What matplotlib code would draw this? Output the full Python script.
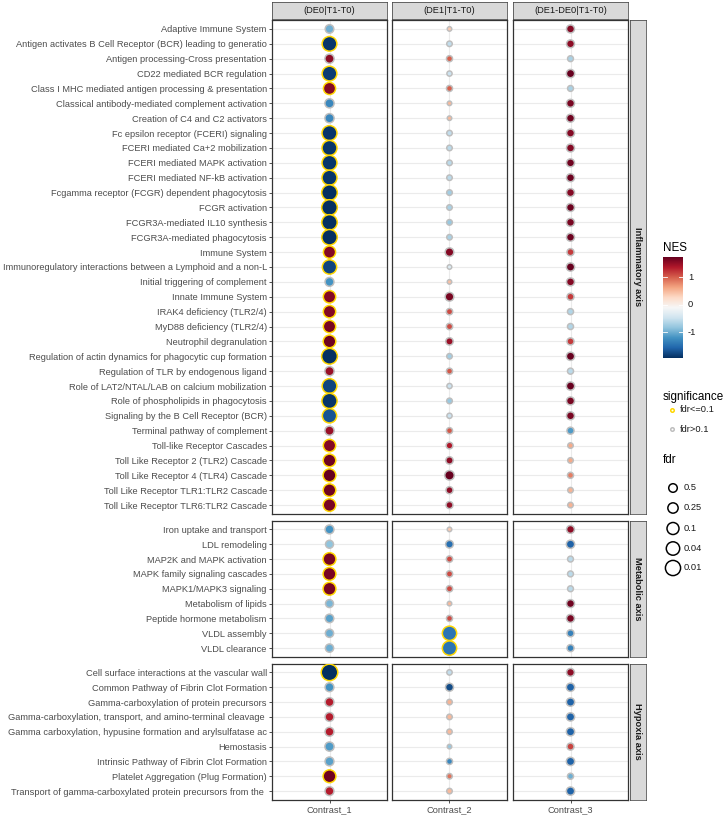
import matplotlib
matplotlib.use("Agg")
import matplotlib.pyplot as plt
import numpy as np
from matplotlib.colors import Normalize

plt.rcParams['font.family'] = ['Liberation Sans', 'DejaVu Sans']

W, H = 725, 816

contrasts = ["Contrast_1", "Contrast_2", "Contrast_3"]
contrast_titles = ["(DE0|T1-T0)", "(DE1|T1-T0)", "(DE1-DE0|T1-T0)"]
group_names = ["Inflammatory axis", "Metabolic axis", "Hypoxia axis"]

inflammatory_paths = [
    "Adaptive Immune System",
    "Antigen activates B Cell Receptor (BCR) leading to generatio",
    "Antigen processing-Cross presentation",
    "CD22 mediated BCR regulation",
    "Class I MHC mediated antigen processing & presentation",
    "Classical antibody-mediated complement activation",
    "Creation of C4 and C2 activators",
    "Fc epsilon receptor (FCERI) signaling",
    "FCERI mediated Ca+2 mobilization",
    "FCERI mediated MAPK activation",
    "FCERI mediated NF-kB activation",
    "Fcgamma receptor (FCGR) dependent phagocytosis",
    "FCGR activation",
    "FCGR3A-mediated IL10 synthesis",
    "FCGR3A-mediated phagocytosis",
    "Immune System",
    "Immunoregulatory interactions between a Lymphoid and a non-L",
    "Initial triggering of complement",
    "Innate Immune System",
    "IRAK4 deficiency (TLR2/4)",
    "MyD88 deficiency (TLR2/4)",
    "Neutrophil degranulation",
    "Regulation of actin dynamics for phagocytic cup formation",
    "Regulation of TLR by endogenous ligand",
    "Role of LAT2/NTAL/LAB on calcium mobilization",
    "Role of phospholipids in phagocytosis",
    "Signaling by the B Cell Receptor (BCR)",
    "Terminal pathway of complement",
    "Toll-like Receptor Cascades",
    "Toll Like Receptor 2 (TLR2) Cascade",
    "Toll Like Receptor 4 (TLR4) Cascade",
    "Toll Like Receptor TLR1:TLR2 Cascade",
    "Toll Like Receptor TLR6:TLR2 Cascade",
]
metabolic_paths = [
    "Iron uptake and transport",
    "LDL remodeling",
    "MAP2K and MAPK activation",
    "MAPK family signaling cascades",
    "MAPK1/MAPK3 signaling",
    "Metabolism of lipids",
    "Peptide hormone metabolism",
    "VLDL assembly",
    "VLDL clearance",
]
hypoxia_paths = [
    "Cell surface interactions at the vascular wall",
    "Common Pathway of Fibrin Clot Formation",
    "Gamma-carboxylation of protein precursors",
    "Gamma-carboxylation, transport, and amino-terminal cleavage ",
    "Gamma carboxylation, hypusine formation and arylsulfatase ac",
    "Hemostasis",
    "Intrinsic Pathway of Fibrin Clot Formation",
    "Platelet Aggregation (Plug Formation)",
    "Transport of gamma-carboxylated protein precursors from the ",
]

# NES, order: inflammatory (33), metabolic (9), hypoxia (9)
nes_c1 = [-1.0, -1.9, 1.55, -1.85, 1.6, -1.3, -1.3, -1.9, -1.9, -1.9, -1.9,
          -1.95, -1.95, -1.95, -1.95, 1.6, -1.8, -1.2, 1.6, 1.6, 1.65, 1.7,
          -1.95, 1.5, -1.8, -1.9, -1.7, 1.5, 1.6, 1.7, 1.75, 1.7, 1.65,
          -1.2, -0.85, 1.65, 1.65, 1.65, -0.95, -1.1, -1.0, -1.0,
          -1.95, -1.2, 1.35, 1.35, 1.35, -1.15, -1.1, 1.7, 1.35]
nes_c2 = [0.4, -0.55, 1.0, -0.5, 1.0, 0.5, 0.5, -0.55, -0.6, -0.6, -0.6,
          -0.75, -0.7, -0.8, -0.7, 1.6, -0.35, 0.45, 1.65, 1.1, 1.1, 1.5,
          -0.75, 1.05, -0.5, -0.8, -0.5, 1.05, 1.4, 1.55, 1.75, 1.55, 1.55,
          0.4, -1.5, 1.1, 1.1, 1.1, 0.5, 1.1, -1.45, -1.45,
          -0.55, -1.75, 0.55, 0.5, 0.5, -0.8, -1.3, 0.9, 0.5]
nes_c3 = [1.6, 1.55, -0.7, 1.75, -0.7, 1.65, 1.7, 1.6, 1.6, 1.7, 1.72,
          1.6, 1.72, 1.65, 1.72, 1.2, 1.75, 1.6, 1.2, -0.65, -0.65, 1.2,
          1.75, -0.6, 1.75, 1.65, 1.65, -1.15, 0.6, 0.6, 0.85, 0.55, 0.55,
          1.55, -1.6, -0.6, -0.6, -0.6, 1.7, 1.65, -1.35, -1.35,
          1.55, -1.6, -1.6, -1.6, -1.6, 1.15, -1.6, -1.0, -1.6]

fdr_c1 = [0.5, 0.015, 0.4, 0.015, 0.09, 0.4, 0.4, 0.012, 0.012, 0.012, 0.012,
          0.007, 0.007, 0.008, 0.008, 0.09, 0.02, 0.45, 0.08, 0.08, 0.08, 0.07,
          0.006, 0.4, 0.015, 0.01, 0.02, 0.4, 0.08, 0.07, 0.06, 0.07, 0.07,
          0.45, 0.6, 0.06, 0.06, 0.06, 0.6, 0.5, 0.55, 0.55,
          0.003, 0.45, 0.45, 0.45, 0.45, 0.4, 0.45, 0.06, 0.45]
fdr_c2 = [0.97, 0.93, 0.88, 0.95, 0.88, 0.97, 0.97, 0.93, 0.93, 0.93, 0.93,
          0.92, 0.93, 0.92, 0.93, 0.5, 0.97, 0.97, 0.48, 0.85, 0.85, 0.7,
          0.93, 0.88, 0.95, 0.92, 0.95, 0.88, 0.8, 0.7, 0.35, 0.75, 0.75,
          0.97, 0.65, 0.85, 0.85, 0.85, 0.97, 0.88, 0.02, 0.02,
          0.94, 0.6, 0.93, 0.93, 0.94, 0.97, 0.88, 0.93, 0.93]
fdr_c3 = [0.6, 0.62, 0.9, 0.55, 0.9, 0.6, 0.6, 0.6, 0.6, 0.6, 0.6,
          0.6, 0.6, 0.6, 0.6, 0.75, 0.55, 0.6, 0.75, 0.88, 0.88, 0.75,
          0.55, 0.88, 0.55, 0.6, 0.6, 0.75, 0.93, 0.93, 0.88, 0.93, 0.93,
          0.62, 0.55, 0.9, 0.9, 0.9, 0.6, 0.6, 0.75, 0.75,
          0.62, 0.55, 0.55, 0.55, 0.55, 0.75, 0.55, 0.88, 0.55]

fdr_breaks = [0.5, 0.25, 0.1, 0.04, 0.01]
nes_breaks = [-1, 0, 1]

groups = [inflammatory_paths, metabolic_paths, hypoxia_paths]
nes_all = [np.array(nes_c1), np.array(nes_c2), np.array(nes_c3)]
fdr_all = [np.array(fdr_c1), np.array(fdr_c2), np.array(fdr_c3)]

# colour scale
vmin = min(a.min() for a in nes_all)
vmax = max(a.max() for a in nes_all)
norm = Normalize(vmin, vmax)
cmap = plt.get_cmap('RdBu_r')

# size scale (area scale on -log10 fdr)
lv_all = np.concatenate([-np.log10(a) for a in fdr_all])
lv_lo, lv_hi = lv_all.min(), lv_all.max()
STROKE_PX = 1.5


def size_of(fdr):
    v = -np.log10(np.asarray(fdr, dtype=float))
    r = np.clip((v - lv_lo) / (lv_hi - lv_lo), 0, 1)
    outer = 6 + 12 * np.sqrt(r)
    return ((outer - STROKE_PX) * 0.72) ** 2


def box(x0, y0, x1, y1):
    return [x0 / W, 1 - y1 / H, (x1 - x0) / W, (y1 - y0) / H]


fig = plt.figure(figsize=(W / 100, H / 100), dpi=100)

col_x = [(272, 387), (392, 507), (513, 628)]
row_y = [(20, 514), (520.5, 657), (663.5, 800)]
text_col = '#4D4D4D'
fs = 6.7
title_fs = 8.4

start = 0
for g, paths in enumerate(groups):
    n = len(paths)
    ypos = np.arange(n)
    for c in range(3):
        x0, x1 = col_x[c]
        y0, y1 = row_y[g]
        ax = fig.add_axes(box(x0, y0, x1, y1))
        ax.set_xlim(-0.6, 0.6)
        ax.set_ylim(n - 1 + 0.6, -0.6)
        ax.set_yticks(ypos)
        ax.set_xticks([0])
        ax.grid(True, color='#EBEBEB', lw=0.8)
        ax.set_axisbelow(True)
        for sp in ax.spines.values():
            sp.set_color('#333333')
            sp.set_linewidth(0.9)
        nes = nes_all[c][start:start + n]
        fdr = fdr_all[c][start:start + n]
        edges = ['#FFD700' if f <= 0.1 else '#BEBEBE' for f in fdr]
        ax.scatter(np.zeros(n), ypos, s=size_of(fdr), c=cmap(norm(nes)),
                   edgecolors=edges, linewidths=STROKE_PX * 0.72, zorder=3)
        ax.tick_params(length=2.2, width=0.6, color='#333333',
                       labelsize=fs, labelcolor=text_col, pad=1.5)
        if c == 0:
            ax.set_yticklabels(paths)
        else:
            ax.tick_params(left=False, labelleft=False)
        if g == 2:
            ax.set_xticklabels([contrasts[c]])
        else:
            ax.tick_params(bottom=False, labelbottom=False)

        if g == 0:
            sax = fig.add_axes(box(x0, 2, x1, 18.5))
            sax.set_facecolor('#D9D9D9')
            sax.set_xticks([])
            sax.set_yticks([])
            for sp in sax.spines.values():
                sp.set_color('#333333')
                sp.set_linewidth(0.5)
            sax.text(0.5, 0.5, contrast_titles[c], ha='center', va='center',
                     fontsize=fs, color='#1A1A1A', transform=sax.transAxes)
    rax = fig.add_axes(box(629.5, row_y[g][0], 646, row_y[g][1]))
    rax.set_facecolor('#D9D9D9')
    rax.set_xticks([])
    rax.set_yticks([])
    for sp in rax.spines.values():
        sp.set_color('#333333')
        sp.set_linewidth(0.5)
    rax.text(0.5, 0.5, group_names[g], ha='center', va='center', rotation=-90,
             fontsize=fs, fontweight='bold', color='#1A1A1A', transform=rax.transAxes)
    start += n

# colour bar legend
cax = fig.add_axes(box(663, 257, 683, 358))
grad = np.linspace(vmin, vmax, 256).reshape(-1, 1)
cax.imshow(grad, extent=[0, 1, vmin, vmax], origin='lower', aspect='auto',
           cmap=cmap, norm=norm)
cax.set_xlim(0, 1)
cax.set_ylim(vmin, vmax)
cax.axis('off')
for b in nes_breaks:
    cax.plot([0, 0.2], [b, b], color='white', lw=0.6)
    cax.plot([0.8, 1], [b, b], color='white', lw=0.6)
    fig.text(688 / W, 1 - (257 + (vmax - b) / (vmax - vmin) * 101) / H,
             str(b), fontsize=fs, va='center', ha='left', color='#1A1A1A')
fig.text(663 / W, 1 - 248.5 / H, "NES", fontsize=title_fs, va='center', ha='left')

# overlay axes in pixel units for the other legends
lax = fig.add_axes([0, 0, 1, 1])
lax.set_xlim(0, W)
lax.set_ylim(H, 0)
lax.axis('off')
lax.patch.set_alpha(0)

lax.text(663, 397, "significance", fontsize=title_fs, va='center', ha='left')
sig_labels = ["fdr<=0.1", "fdr>0.1"]
sig_colors = ['#FFD700', '#BEBEBE']
for i, (lab, col) in enumerate(zip(sig_labels, sig_colors)):
    yy = 410 + i * 19
    lax.scatter([672], [yy], s=(3.5 * 0.72) ** 2, facecolors='white',
                edgecolors=col, linewidths=1.1)
    lax.text(680, yy, lab, fontsize=fs, va='center', ha='left', color='#1A1A1A')

lax.text(663, 460, "fdr", fontsize=title_fs, va='center', ha='left')
fdr_y = [488, 508, 528.5, 548.5, 568]
for b, yy in zip(fdr_breaks, fdr_y):
    lax.scatter([673], [yy], s=size_of(b), facecolors='none',
                edgecolors='black', linewidths=STROKE_PX * 0.72)
    lax.text(684, yy, str(b), fontsize=fs, va='center', ha='left', color='#1A1A1A')

fig.savefig("out.png", dpi=100)
